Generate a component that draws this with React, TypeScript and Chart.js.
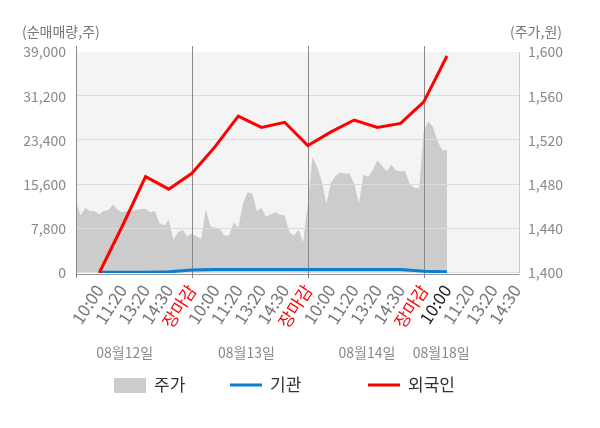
import { useEffect, useRef } from 'react';
import { Chart, registerables } from 'chart.js';

Chart.register(...registerables);

const FONT = "'Noto Sans CJK KR', 'Noto Sans', sans-serif";

// x-axis labels, sitting on slots 1..19
const timeLabels = [
  '10:00', '11:20', '13:20', '14:30', '장마감',
  '10:00', '11:20', '13:20', '14:30', '장마감',
  '10:00', '11:20', '13:20', '14:30', '장마감',
  '10:00', '11:20', '13:20', '14:30',
];
const closeSlots = [5, 10, 15];
const currentSlot = 16;

const dayLabels = ['08월12일', '08월13일', '08월14일', '08월18일'];
const dayLabelSlots = [2.1, 7.35, 12.55, 15.75];

const volumeTicks = [0, 7800, 15600, 23400, 31200, 39000];
const priceTicks = [1400, 1440, 1480, 1520, 1560, 1600];

// cumulative net buying (주), slots 1..16
const foreignNet = [0, 8300, 17000, 14800, 17600, 22300, 27700, 25700, 26600, 22500, 24900, 27000, 25700, 26400, 30200, 38300];
const instNet = [150, 150, 150, 200, 550, 600, 600, 600, 600, 600, 600, 600, 600, 600, 300, 200];

// 주가 (원), one sample every 0.2 slot starting at slot 0
const priceStep = 0.2;
const price = [
  1465, 1452, 1459, 1456, 1456, 1453, 1456, 1457, 1462, 1457,
  1455, 1456, 1456, 1457, 1458, 1458, 1455, 1456, 1445, 1443,
  1448, 1430, 1437, 1439, 1433,
  1436, 1433, 1431, 1458, 1442, 1441, 1440, 1434, 1434, 1446,
  1441, 1463, 1473, 1472, 1456, 1459, 1451, 1453, 1455, 1453,
  1452, 1437, 1434, 1439, 1428,
  1463, 1505, 1496, 1483, 1463, 1482, 1488, 1491, 1490, 1490,
  1481, 1463, 1489, 1487, 1493, 1502, 1497, 1492, 1498, 1493,
  1492, 1492, 1480, 1477, 1477,
  1529, 1537, 1532, 1519, 1511, 1511,
];

const legendItems = [
  { text: '주가', color: '#cccccc', box: true },
  { text: '기관', color: '#0a7fd1', box: false },
  { text: '외국인', color: '#ff0000', box: false },
];

const framePlugin = {
  id: 'frame',
  beforeDatasetsDraw(chart: any) {
    const { ctx, chartArea: a, scales } = chart;
    const top = scales.yL.getPixelForValue(volumeTicks[volumeTicks.length - 1]);
    ctx.save();
    ctx.fillStyle = '#f4f4f4';
    ctx.fillRect(a.left, top, a.right - a.left, a.bottom - top);
    ctx.restore();
  },
  afterDatasetDraw(chart: any, args: any) {
    if (args.index !== 0) return;
    const { ctx, chartArea: a, scales } = chart;
    const top = scales.yL.getPixelForValue(volumeTicks[volumeTicks.length - 1]);
    ctx.save();
    ctx.lineWidth = 1;
    ctx.strokeStyle = '#dcdcdc';
    volumeTicks.slice(0, -1).forEach((v) => {
      const y = Math.round(scales.yL.getPixelForValue(v)) - 0.5;
      ctx.beginPath();
      ctx.moveTo(a.left, y);
      ctx.lineTo(a.right, y);
      ctx.stroke();
    });
    ctx.strokeStyle = '#999999';
    ctx.beginPath();
    ctx.moveTo(a.left, a.bottom + 1.5);
    ctx.lineTo(a.right, a.bottom + 1.5);
    ctx.stroke();
    ctx.strokeStyle = '#cccccc';
    ctx.beginPath();
    ctx.moveTo(a.right - 0.5, top);
    ctx.lineTo(a.right - 0.5, a.bottom + 2);
    ctx.stroke();
    ctx.strokeStyle = '#888888';
    [0, ...closeSlots].forEach((s) => {
      const x = Math.round(scales.x.getPixelForValue(s)) + 0.5;
      ctx.beginPath();
      ctx.moveTo(x, a.top);
      ctx.lineTo(x, a.bottom + 5);
      ctx.stroke();
    });
    ctx.restore();
  },
  afterDraw(chart: any) {
    const { ctx, scales } = chart;
    ctx.save();
    ctx.font = `14px ${FONT}`;
    ctx.fillStyle = '#777777';
    ctx.textBaseline = 'middle';
    ctx.textAlign = 'left';
    ctx.fillText('(순매매량,주)', 22, 32);
    ctx.textAlign = 'right';
    ctx.fillText('(주가,원)', 562, 32);

    ctx.fillStyle = '#888888';
    ctx.textAlign = 'center';
    dayLabels.forEach((t, i) => {
      ctx.fillText(t, scales.x.getPixelForValue(dayLabelSlots[i]), 353);
    });

    ctx.font = `17px ${FONT}`;
    let x = 114;
    const y = 385;
    const gaps = [116, 138];
    legendItems.forEach((it, i) => {
      if (it.box) {
        ctx.fillStyle = it.color;
        ctx.fillRect(x, y - 7, 32, 15);
      } else {
        ctx.strokeStyle = it.color;
        ctx.lineWidth = 3;
        ctx.beginPath();
        ctx.moveTo(x, y);
        ctx.lineTo(x + 32, y);
        ctx.stroke();
      }
      ctx.fillStyle = '#333333';
      ctx.textAlign = 'left';
      ctx.fillText(it.text, x + 40, y);
      x += gaps[i] ?? 0;
    });
    ctx.restore();
  },
};

export default function App() {
  const canvasRef = useRef<HTMLCanvasElement>(null);
  const chartRef = useRef<Chart | null>(null);

  useEffect(() => {
    document.body.style.margin = '0';
    if (!canvasRef.current) return;
    if (chartRef.current) chartRef.current.destroy();

    Chart.defaults.font.family = FONT;

    chartRef.current = new Chart(canvasRef.current, {
      type: 'line',
      data: {
        datasets: [
          {
            label: '주가',
            data: price.map((p, i) => ({ x: i * priceStep, y: p })),
            yAxisID: 'yR',
            fill: 'start',
            backgroundColor: '#cccccc',
            borderWidth: 0,
            pointRadius: 0,
            order: 2,
          },
          {
            label: '기관',
            data: instNet.map((v, i) => ({ x: i + 1, y: v })),
            yAxisID: 'yL',
            borderColor: '#0a7fd1',
            borderWidth: 3,
            pointRadius: 0,
            fill: false,
            order: 1,
          },
          {
            label: '외국인',
            data: foreignNet.map((v, i) => ({ x: i + 1, y: v })),
            yAxisID: 'yL',
            borderColor: '#ff0000',
            borderWidth: 3,
            pointRadius: 0,
            fill: false,
            order: 0,
          },
        ],
      },
      options: {
        animation: false,
        responsive: true,
        maintainAspectRatio: false,
        layout: { padding: { top: 46, left: 0, right: 0, bottom: 0 } },
        plugins: {
          legend: { display: false },
          tooltip: { enabled: false },
        },
        scales: {
          x: {
            type: 'linear',
            min: 0,
            max: 19.15,
            grid: { display: false, drawTicks: false },
            border: { display: false },
            afterBuildTicks: (scale: any) => {
              scale.ticks = timeLabels.map((_, i) => ({ value: i + 1 }));
            },
            afterFit: (scale: any) => {
              scale.height = 155;
            },
            ticks: {
              autoSkip: false,
              minRotation: 57,
              maxRotation: 57,
              padding: 8,
              font: { size: 17 },
              color: (c: any) => {
                const v = c.tick?.value;
                if (closeSlots.includes(v)) return '#ff0000';
                if (v === currentSlot) return '#222222';
                return '#777777';
              },
              callback: (v: any) => timeLabels[Number(v) - 1] ?? '',
            },
          },
          yL: {
            position: 'left',
            min: 0,
            max: 39000 * 227 / 221,
            grid: { display: false, drawTicks: false },
            border: { display: false },
            afterBuildTicks: (scale: any) => {
              scale.ticks = volumeTicks.map((v) => ({ value: v }));
            },
            afterFit: (scale: any) => {
              scale.width = 76;
            },
            ticks: {
              padding: 10,
              color: '#888888',
              font: { size: 14 },
              callback: (v: any) => Number(v).toLocaleString('en-US'),
            },
          },
          yR: {
            position: 'right',
            min: 1400,
            max: 1400 + 200 * 227 / 221,
            grid: { display: false, drawTicks: false },
            border: { display: false },
            afterBuildTicks: (scale: any) => {
              scale.ticks = priceTicks.map((v) => ({ value: v }));
            },
            afterFit: (scale: any) => {
              scale.width = 80;
            },
            ticks: {
              padding: 8,
              color: '#888888',
              font: { size: 14 },
              callback: (v: any) => Number(v).toLocaleString('en-US'),
            },
          },
        },
      },
      plugins: [framePlugin],
    });

    return () => {
      if (chartRef.current) {
        chartRef.current.destroy();
        chartRef.current = null;
      }
    };
  }, []);

  return (
    <div style={{ position: 'relative', width: 600, height: 428 }}>
      <canvas ref={canvasRef}></canvas>
    </div>
  );
}
